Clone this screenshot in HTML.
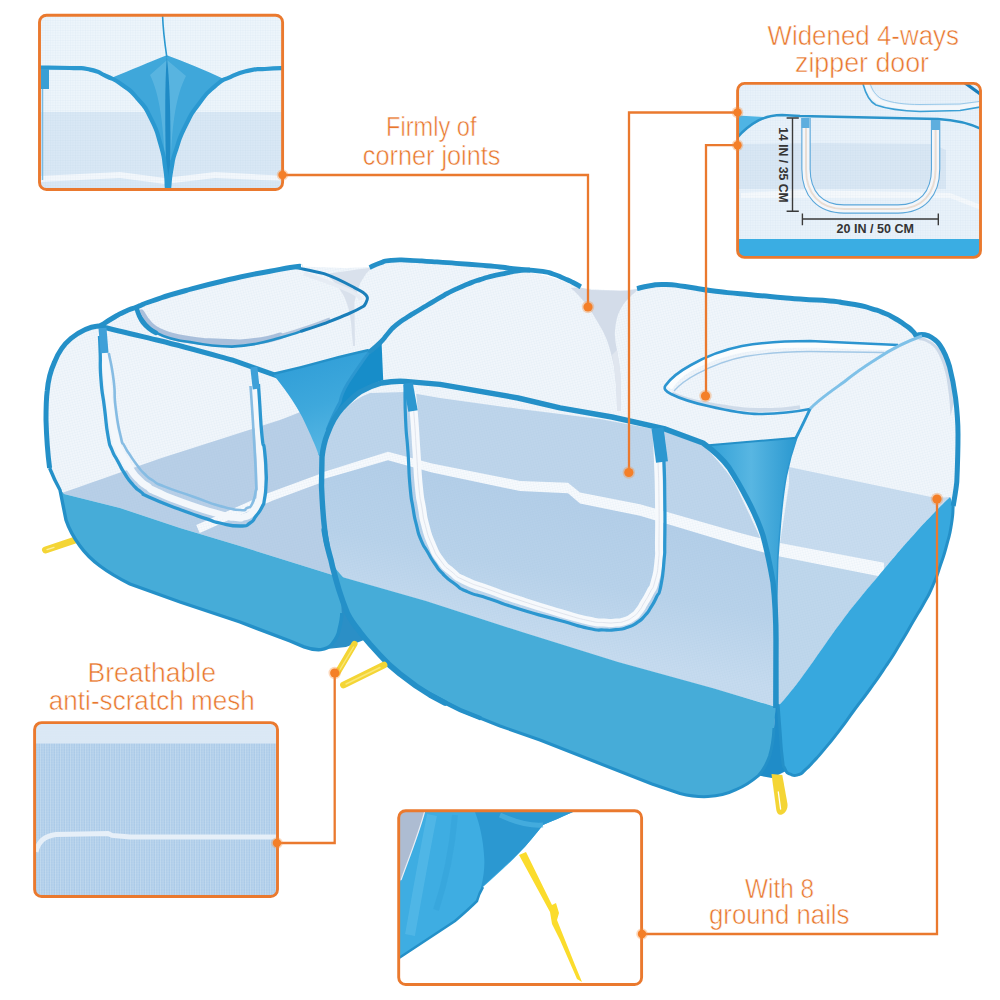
<!DOCTYPE html>
<html>
<head>
<meta charset="utf-8">
<title>Pet playpen features</title>
<style>
html,body{margin:0;padding:0;background:#fff;}
body{width:1000px;height:1000px;overflow:hidden;font-family:"Liberation Sans",sans-serif;}
svg{display:block;}
text{font-family:"Liberation Sans",sans-serif;}
</style>
</head>
<body>
<svg width="1000" height="1000" viewBox="0 0 1000 1000">
<defs>
  <pattern id="mesh" width="2.5" height="2.5" patternUnits="userSpaceOnUse" patternTransform="rotate(-14)">
    <path d="M0 0H2.5M0 0V2.5" stroke="#8fb4d6" stroke-width="0.5" opacity="0.22"/>
  </pattern>
  <pattern id="meshv" width="2.5" height="2.5" patternUnits="userSpaceOnUse">
    <path d="M0.6 0V2.5" stroke="#dbe9f6" stroke-width="0.9" opacity="0.55"/><path d="M0 1.2H2.5" stroke="#dbe9f6" stroke-width="0.5" opacity="0.3"/>
  </pattern>
  <pattern id="meshs" width="2.5" height="2.5" patternUnits="userSpaceOnUse">
    <path d="M0 0H2.5M0 0V2.5" stroke="#8fb4d6" stroke-width="0.5" opacity="0.22"/>
  </pattern>
  <linearGradient id="bandL" x1="0" y1="0" x2="1" y2="0">
    <stop offset="0" stop-color="#4bb0dd"/><stop offset="1" stop-color="#43aad8"/>
  </linearGradient>
  <linearGradient id="triG" x1="0" y1="0" x2="1" y2="0">
    <stop offset="0" stop-color="#2f9fd6"/><stop offset="0.5" stop-color="#58b6e2"/><stop offset="1" stop-color="#2a98d0"/>
  </linearGradient>
  <linearGradient id="triL" x1="0" y1="0" x2="0.3" y2="1">
    <stop offset="0" stop-color="#2c9bd6"/><stop offset="0.6" stop-color="#3ea8dc"/><stop offset="1" stop-color="#55b5e3"/>
  </linearGradient>
  <linearGradient id="floorG" gradientUnits="userSpaceOnUse" x1="560" y1="490" x2="530" y2="640">
    <stop offset="0" stop-color="#b3cee8"/><stop offset="0.55" stop-color="#b8d2ea"/><stop offset="1" stop-color="#c6dbef"/>
  </linearGradient>
  <clipPath id="c1"><rect x="39.5" y="15.2" width="243.1" height="174.3" rx="7"/></clipPath>
  <clipPath id="c2"><rect x="737.6" y="83.4" width="242.9" height="174" rx="7"/></clipPath>
  <clipPath id="c3"><rect x="34.6" y="722.6" width="242.9" height="173.9" rx="7"/></clipPath>
  <clipPath id="c4"><rect x="398.7" y="810.7" width="242.9" height="173.8" rx="7"/></clipPath>
</defs>
<rect width="1000" height="1000" fill="#fff"/>

<!-- ================= MAIN PRODUCT ================= -->
<g id="product">
<!-- yellow strap -->
<path d="M79,538.8 L45.5,550" stroke="#f4d535" stroke-width="7" stroke-linecap="round" fill="none"/>
<path d="M47,549.6 L54,547.3" stroke="#fbeea0" stroke-width="1.3" stroke-linecap="round"/>
<!-- left unit silhouette -->
<path d="M98,326 C99.2,325.7 96.9,327.5 101.6,325.0 C106.3,322.5 104.5,322.8 112.0,318.5 C119.5,314.2 115.3,316.0 124.0,312.0 C132.7,308.0 128.7,310.2 138.0,306.5 C147.3,302.8 136.0,306.3 152.0,301.0 C168.0,295.7 158.7,298.0 186.0,290.5 C213.3,283.0 206.0,284.9 234.0,278.5 C262.0,272.1 250.0,275.1 270.0,271.3 C290.0,267.5 283.7,268.6 294.0,267.0 C304.3,265.4 298.7,266.7 301.0,266.6 L345,268 L372,267 C385,262 395,260 399,260 C420,259 435,262 450,264 L518,271 C500,273 470,280 450,288 C430,298 405,315 392,328 C385,335 376,345 372,356 L365,352 C350,375 335,395 327,430 C322,450 321,470 323,500 C325,530 329,560 336,584 L342,614 C342,625 338,640 330,646 C325,650 320,651 312,647 L240,622 L180,602 L130,584 C118,578 108,572 100,566 C92,560 85,553 80,546 C74,538 69,529 66,520 L60,490 C55,480 52,472 49.6,468 C47.5,452 46.5,437 46,420 C46,410 46,400 47.2,391 C48,382 50,372 54.4,362.4 C58,353 63,345 71,338.4 C79,332 88,328 98,326 Z" fill="#f1f6fb"/>
<!-- floor through mesh -->
<path d="M62,493 L160,458.4 L280,420 L321,404 L340,400 L330,470 L329,560 L339,577 L240,546 L180,528 L120,508 L64,494 Z" fill="#b8cfe7"/>
<path d="M198,529 L270,497 L324,477" stroke="#f7fafd" stroke-width="8.6" fill="none"/>
<!-- mesh texture -->
<path d="M98,326 C99.2,325.7 96.9,327.5 101.6,325.0 C106.3,322.5 104.5,322.8 112.0,318.5 C119.5,314.2 115.3,316.0 124.0,312.0 C132.7,308.0 128.7,310.2 138.0,306.5 C147.3,302.8 136.0,306.3 152.0,301.0 C168.0,295.7 158.7,298.0 186.0,290.5 C213.3,283.0 206.0,284.9 234.0,278.5 C262.0,272.1 250.0,275.1 270.0,271.3 C290.0,267.5 283.7,268.6 294.0,267.0 C304.3,265.4 298.7,266.7 301.0,266.6 L345,268 L372,267 C385,262 395,260 399,260 C420,259 435,262 450,264 L518,271 C500,273 470,280 450,288 C430,298 405,315 392,328 C385,335 376,345 372,356 L365,352 C350,375 335,395 327,430 C322,450 321,470 323,500 C325,530 329,560 336,584 L339,577 L240,546 L180,528 L120,508 L64,494 L60,490 C55,480 52,472 49.6,468 C47.5,452 46.5,437 46,420 C46,410 46,400 47.2,391 C48,382 50,372 54.4,362.4 C58,353 63,345 71,338.4 C79,332 88,328 98,326 Z" fill="url(#mesh)"/>
<!-- blue band -->
<path d="M59,488 L64,494 L120,508 L180,528 L240,546 L339,577 L344,610 L341.8,613 C341.8,617 341,622 339,630 C338.5,634 336,639 332,644 C330,646.5 326,649 320.8,649.6 C316,650 310,649 304,646.8 L290,641 L240,622 L180,602 L130,584 C118,578 108,572 100,566 C92,560 85,553 80,546 C74,538 69,529 66,520 L60,490 Z" fill="#46acd8"/>
<path d="M341,600 L341.8,613 C341.8,617 341,622 339,630 C338.5,634 336,639 332,644 C330,646.5 326,649 322,649.5 L346,647 L364,640 L352,618 L344,598 Z" fill="#2b8fc6"/>
<path d="M49.6,468 C52,474 55,481 60,490 L66,520 C69,529 74,538 80,546 C85,553 92,560 100,566 C108,572 118,578 130,584 L180,602 L240,622 L290,641 L304,646.8 C310,649 316,650 320.8,649.6 C326,649 330,646.5 332,644 C336,639 338.5,634 339,630 C341,622 341.8,617 341.8,613" fill="none" stroke="#2490c8" stroke-width="3.4"/>
<!-- corner joint mesh (left) -->
<path d="M325.6,274 L372,267.6 C369,270.5 366,273.5 364,277 C362,280 360,283 359,286.8 C357,292 355.5,297 354.4,302.8 L355,346 L353,346 L351,322 C350,313 348,305 344.8,298 C340,288 333,280 325.6,274 Z" fill="#d9e1ec"/>
<!-- top opening left unit -->
<path d="M141,313 C146,322 152,329 160,332 C172,338 188,340 204,341.5 L240,343 C255,342 268,340 280,336" fill="none" stroke="#a9bfdb" stroke-width="7" stroke-linecap="round"/>
<path d="M280,336 C295,331.5 312,326 330,319" fill="none" stroke="#b4c6dd" stroke-width="3.4"/>
<path d="M136.8,308.8 C137.8,313 139.5,318 143,322.5 C147,327.5 151,330.5 156,332.8" fill="none" stroke="#2490c8" stroke-width="4.6" stroke-linecap="round"/>
<path d="M137,310 C141,318 147,327 156,332.6 C168,339 180,341 190,342 C205,345 220,346.6 232,346.6 C248,346 262,343 274,339.6 C283,337 292,334.5 300,331.6" fill="none" stroke="#2490c8" stroke-width="2.6"/>
<path d="M304,273.5 C315,277.5 335,284 350,291 C356,294 360,297 361,300" fill="none" stroke="#e6ecf4" stroke-width="4"/>
<path d="M294,267.3 L301,268.6 C308,270 316,271.5 324,273.6 C334,277 344,282 352.8,286.8 C358,289.5 362,291.5 364,293.2 C367,295.5 368,297.5 367.2,299.6 C366.5,302 365.5,304 364,306 C359,309 354,311.5 348,314 C340,317.5 332,320.5 324,323.6 C316,326.5 308,329 300,331.6" fill="none" stroke="#1a7fba" stroke-width="3"/>
<!-- front top edge -->
<path d="M100,326.5 C120,331 140,336 160,340.8 C185,347 210,354 232,360 L256,368.4 L280,376.8" fill="none" stroke="#2490c8" stroke-width="5"/>
<!-- left arc + back edge -->
<path d="M301.0,266.6 C298.7,266.7 304.3,265.4 294.0,267.0 C283.7,268.6 290.0,267.5 270.0,271.3 C250.0,275.1 262.0,272.1 234.0,278.5 C206.0,284.9 213.3,283.0 186.0,290.5 C158.7,298.0 168.0,295.7 152.0,301.0 C136.0,306.3 147.3,302.8 138.0,306.5 C128.7,310.2 132.7,308.0 124.0,312.0 C115.3,316.0 119.5,314.2 112.0,318.5 C104.5,322.8 106.3,322.5 101.6,325.0 C96.9,327.5 99.2,325.7 98.0,326.0 C88,327 79,332 71,338.4 C63,345 58,353 54.4,362.4 C50,372 48,382 47.2,391 C46,400 46,410 46,420 C46.5,437 47.5,452 49.6,468" fill="none" stroke="#2490c8" stroke-width="5"/>
<!-- door left unit -->
<path d="M104.5,353.0 C105.4,362.0 105.4,361.7 107.3,380.0 C109.2,398.3 107.5,389.3 110.1,408.0 C112.7,426.7 112.0,422.3 115.0,436.0 C118.0,449.7 115.7,441.1 119.0,449.0 C122.3,456.9 120.8,452.8 124.8,459.8 C128.8,466.8 126.3,463.5 131.0,470.0 C135.7,476.5 133.5,474.1 138.8,479.4 C144.1,484.7 140.9,481.8 147.0,486.0 C153.1,490.2 144.3,486.3 157.0,492.0 C169.7,497.7 164.0,495.7 185.0,503.2 C206.0,510.7 203.0,509.6 220.0,514.4 C237.0,519.2 228.0,516.6 236.0,517.5 C244.0,518.4 238.7,518.5 244.0,517.0 C249.3,515.5 247.3,516.7 252.0,513.0 C256.7,509.3 255.2,512.7 258.0,506.0 C260.8,499.3 259.5,501.7 260.5,493.0 C261.5,484.3 261.5,497.7 261.0,480.0 C260.5,462.3 260.7,466.7 259.0,440.0 C257.3,413.3 257.5,418.7 256.0,400.0 C254.5,381.3 255.0,389.3 254.5,384.0" fill="none" stroke="#f3f7fb" stroke-width="7" stroke-linejoin="round"/>
<path d="M99.5,336.0 C99.7,341.7 99.7,338.3 100.2,353.0 C100.7,367.7 99.6,361.7 101.0,380.0 C102.4,398.3 102.2,389.3 104.5,408.0 C106.8,426.7 105.5,422.0 108.0,436.0 C110.5,450.0 108.7,441.6 112.0,450.0 C115.3,458.4 113.5,453.2 117.8,461.2 C122.1,469.2 119.9,466.1 125.0,474.0 C130.1,481.9 127.9,479.0 133.2,485.0 C138.5,491.0 135.4,487.8 141.0,492.0 C146.6,496.2 137.7,492.0 150.0,497.6 C162.3,503.2 159.3,501.8 178.0,508.8 C196.7,515.8 192.0,513.9 206.0,518.6 C220.0,523.3 208.7,520.5 220.0,523.0 C231.3,525.5 230.0,526.0 240.0,526.0 C250.0,526.0 244.7,526.3 250.0,523.0 C255.3,519.7 252.0,521.3 256.0,516.0 C260.0,510.7 259.2,512.7 262.0,507.0 C264.8,501.3 263.2,506.3 264.5,499.0 C265.8,491.7 265.5,494.7 266.0,485.0 C266.5,475.3 266.5,481.7 266.0,470.0 C265.5,458.3 265.8,461.3 264.5,450.0 C263.2,438.7 263.7,452.7 262.0,436.0 C260.3,419.3 260.7,417.3 259.5,400.0 C258.3,382.7 258.8,389.3 258.5,384.0" fill="none" stroke="#2c97d0" stroke-width="3.3" stroke-linejoin="round"/>
<path d="M108.8,353.0 C110.4,362.0 111.3,361.7 113.6,380.0 C115.9,398.3 113.4,389.3 115.7,408.0 C118.0,426.7 117.7,423.3 120.6,436.0 C123.5,448.7 121.2,439.5 124.5,446.0 C127.8,452.5 126.2,449.3 130.4,455.6 C134.6,461.9 132.3,458.9 137.0,465.0 C141.7,471.1 139.1,468.6 144.4,473.8 C149.7,479.0 146.5,476.3 153.0,480.5 C159.5,484.7 151.0,481.2 164.0,486.4 C177.0,491.6 173.3,489.7 192.0,496.2 C210.7,502.7 204.0,501.4 220.0,506.0 C236.0,510.6 231.0,509.3 240.0,510.0 C249.0,510.7 243.0,510.0 247.0,508.0 C251.0,506.0 249.2,509.3 252.0,504.0 C254.8,498.7 254.2,500.0 255.5,492.0 C256.8,484.0 256.5,497.3 256.0,480.0 C255.5,462.7 255.5,466.7 254.0,440.0 C252.5,413.3 252.7,418.0 251.5,400.0 C250.3,382.0 250.8,390.7 250.5,386.0" fill="none" stroke="#86bce3" stroke-width="2.6" stroke-linejoin="round"/>
<path d="M102.5,328 L104.5,353" stroke="#3fa0d8" stroke-width="8"/>
<path d="M253.8,367 L256.2,389" stroke="#3fa0d8" stroke-width="7"/>

<!-- right unit silhouette -->
<path d="M322,460 C323,445 326,437 328,433 C332,422 337,414 342,408 C348,402 354,396 360,392 C367,388 374,385 382,383 L372,356 C376,345 385,335 392,328 C405,315 430,298 450,288 C470,280 500,273 518,271 C535,272 560,278 579,288 L620,291 L637,288.6 C641.3,287.7 640.7,287.2 650.0,285.8 C659.3,284.4 653.3,284.3 665.0,284.5 C676.7,284.7 670.0,284.5 685.0,286.5 C700.0,288.5 691.7,288.1 710.0,290.5 C728.3,292.9 720.0,291.8 740.0,293.8 C760.0,295.8 750.0,294.8 770.0,296.5 C790.0,298.2 780.0,297.5 800.0,299.0 C820.0,300.5 815.0,299.7 830.0,301.0 C845.0,302.3 835.0,301.5 845.0,303.0 C855.0,304.5 851.0,303.6 860.0,305.5 C869.0,307.4 864.0,306.3 872.0,308.8 C880.0,311.3 876.3,309.8 884.0,313.0 C891.7,316.2 888.0,314.5 895.0,318.5 C902.0,322.5 899.3,321.0 905.0,325.0 C910.7,329.0 908.3,327.0 912.0,330.5 C915.7,334.0 914.7,333.9 916.0,335.6 C920,334 925,334.5 928,335.6 C933,338 937,341 940,345.2 C944,351 947,358 949.6,366.8 C952,376 954,386 955.6,398 C957,410 958,422 958,434 C958,450 957.5,466 956.8,482 C956,490 954.5,498 953.2,506 C952.6,512.0 953.6,511.3 951.5,524.0 C949.4,536.7 950.7,530.3 947.0,544.0 C943.3,557.7 945.2,551.1 940.5,565.0 C935.8,578.9 938.3,572.9 932.8,585.6 C927.3,598.3 930.3,591.5 924.0,603.0 C917.7,614.5 921.8,606.7 914.0,620.0 C906.2,633.3 909.8,627.7 900.5,643.0 C891.2,658.3 896.2,650.7 886.0,666.0 C875.8,681.3 880.3,674.7 870.0,689.0 C859.7,703.3 865.0,695.5 855.0,709.0 C845.0,722.5 850.3,716.1 840.0,729.6 C829.7,743.1 833.0,738.8 824.0,749.6 C815.0,760.4 819.3,755.2 813.0,762.0 C806.7,768.8 809.8,765.8 805.0,770.0 C800.2,774.2 803.4,773.2 798.5,774.6 C793.6,776.0 794.9,776.1 790.4,774.2 C785.9,772.3 786.8,770.6 785.0,768.8 L784,772 L772,778 L758.4,775.6 C752,781 745,786 736,789.6 C728,793.5 718,796 708,796.6 C700,797 690,796 680,793.5 L652,784 L596,762 L540,740 L500,726 L460,710 L420,688 L400,674 L380,654 C372,646 366,640 362,634 C353,622 349,615 345.6,608 C340,595 336,584 329,560 C325,540 322,500 322,460 Z" fill="#f1f6fb"/>
<!-- front face back-wall region -->
<path d="M322,470 C323,450 326,437 330,432 C338,415 350,400 370,393 L406,392 L440,398 L520,409 L600,419 L664,431 L703,445 C722,465 730,475 735,484 C745,505 752,520 759,535 C765,552 770,570 773,586 C775,600 776,610 776,620 L778,707 L714,688.5 L618,662 L522,632 L426,601 L342,577 C325,540 322,500 322,470 Z" fill="#bed5eb"/>
<!-- floor front -->
<path d="M322,476 L388,456 L432,468 L520,486 L568,488 L580,498 L640,510 L776,549 L778,707 L714,688.5 L618,662 L522,632 L426,601 L342,577 L329,560 C325,540 322,500 322,478 Z" fill="url(#floorG)"/>
<!-- right face floor -->
<path d="M789,467 L936,498 L950,497 C944.0,503.0 944.0,502.5 932.0,515.0 C920.0,527.5 926.0,521.2 914.0,534.5 C902.0,547.8 908.0,541.0 896.0,555.0 C884.0,569.0 890.0,562.2 878.0,576.5 C866.0,590.8 872.0,583.2 860.0,598.0 C848.0,612.8 854.0,605.0 842.0,621.0 C830.0,637.0 836.0,629.2 824.0,646.0 C812.0,662.8 818.0,655.2 806.0,671.5 C794.0,687.8 797.7,683.2 788.0,695.0 C778.3,706.8 780.7,703.0 777.0,707.0 L776,620 L778,556 L789,484 Z" fill="#c8dcef"/>
<path d="M776,549 L880,575 C873.3,582.7 872.7,582.7 860.0,598.0 C847.3,613.3 854.0,605.0 842.0,621.0 C830.0,637.0 836.0,629.2 824.0,646.0 C812.0,662.8 818.0,655.2 806.0,671.5 C794.0,687.8 797.7,683.2 788.0,695.0 C778.3,706.8 780.7,703.0 777.0,707.0 Z" fill="#bfd7ec"/>
<!-- white line -->
<path d="M322.0,472.4 L388.0,451.8 L432.0,463.4 L520.0,480.9 L568.0,482.7 L580.0,492.5 L640.0,504.2 L742.0,533.5 L776.0,542.2 L884.0,562.8 L884.0,577.2 L776.0,555.8 L742.0,546.5 L640.0,515.8 L580.0,503.5 L568.0,493.3 L520.0,491.1 L432.0,472.6 L388.0,460.2 L322.0,479.6 Z" fill="#f7fafd"/>
<!-- mesh texture -->
<path d="M322,460 C323,445 326,437 328,433 C332,422 337,414 342,408 C348,402 354,396 360,392 C367,388 374,385 382,383 L372,356 C376,345 385,335 392,328 C405,315 430,298 450,288 C470,280 500,273 518,271 C535,272 560,278 579,288 L620,291 L637,288.6 C641.3,287.7 640.7,287.2 650.0,285.8 C659.3,284.4 653.3,284.3 665.0,284.5 C676.7,284.7 670.0,284.5 685.0,286.5 C700.0,288.5 691.7,288.1 710.0,290.5 C728.3,292.9 720.0,291.8 740.0,293.8 C760.0,295.8 750.0,294.8 770.0,296.5 C790.0,298.2 780.0,297.5 800.0,299.0 C820.0,300.5 815.0,299.7 830.0,301.0 C845.0,302.3 835.0,301.5 845.0,303.0 C855.0,304.5 851.0,303.6 860.0,305.5 C869.0,307.4 864.0,306.3 872.0,308.8 C880.0,311.3 876.3,309.8 884.0,313.0 C891.7,316.2 888.0,314.5 895.0,318.5 C902.0,322.5 899.3,321.0 905.0,325.0 C910.7,329.0 908.3,327.0 912.0,330.5 C915.7,334.0 914.7,333.9 916.0,335.6 C920,334 925,334.5 928,335.6 C933,338 937,341 940,345.2 C944,351 947,358 949.6,366.8 C952,376 954,386 955.6,398 C957,410 958,422 958,434 C958,450 957.5,466 956.8,482 C956,490 954.5,498 953.2,506 L950,497 C944.0,503.0 944.0,502.5 932.0,515.0 C920.0,527.5 926.0,521.2 914.0,534.5 C902.0,547.8 908.0,541.0 896.0,555.0 C884.0,569.0 890.0,562.2 878.0,576.5 C866.0,590.8 872.0,583.2 860.0,598.0 C848.0,612.8 854.0,605.0 842.0,621.0 C830.0,637.0 836.0,629.2 824.0,646.0 C812.0,662.8 818.0,655.2 806.0,671.5 C794.0,687.8 797.7,683.2 788.0,695.0 C778.3,706.8 780.7,703.0 777.0,707.0 L778,707 L714,690 L618,663 L522,632 L426,601 L342,577 L329,560 C325,540 322,500 322,460 Z" fill="url(#mesh)"/>
<!-- blue fabric next to triangle -->
<path d="M368.8,350 L381.6,343 L383.2,380 C372,384 362,390 354,396 C345,403 336,414 330,426 C326,436 323,446 321,457 L318.6,455 C322,440 326,428 332,415 C340,395 355,372 368.8,350 Z" fill="#178dc9"/>
<!-- corner triangle -->
<path d="M272.7,374 C290,370 310,365 332,358.8 C345,355.5 358,352.5 368.8,350 C362,361 355,372 348,382.8 C344,389.5 341,396 340,402 C335,411 331,420 327,430 L321,457 L318.6,455 C317,450 315,445 313,440.8 C310,433 306,425 302.4,417.4 C298,409 293,401 288,394 C283,387 278,380 272.7,374 Z" fill="url(#triL)"/>
<path d="M368.8,352.4 C362,362 355,372 348,382.8 C344,389.5 341,396 340,402 C335,411 331,420 327,430" fill="none" stroke="#2c97d0" stroke-width="3"/>
<path d="M272.7,374 C290,370 310,365 332,358.8 C345,355.5 358,352.5 368.8,350" fill="none" stroke="#2490c8" stroke-width="2.4"/>
<!-- front band -->
<path d="M333,570 L342,577 L426,601 L522,632 L618,662 L714,688.5 L776,707 L774,728 C773.5,738 772,748 769.6,756 C767,763 764,770 758.4,775.6 C752,781 745,786 736,789.6 C728,793.5 718,796 708,796.6 C700,797 690,796 680,793.5 L652,784 L596,762 L540,740 L500,726 L460,710 L420,688 L400,674 L380,654 C372,646 366,640 362,634 C353,622 349,615 345.6,608 C342,598 338,588 333,570 Z" fill="#46acd8"/>
<path d="M330,562 L344,578.5 L336,586 Z" fill="#46acd8"/>
<!-- dark wedge at near corner -->
<path d="M776,700 L774,728 C773.5,738 772,748 769.6,756 C767,763 764,770 758.4,775.6 L772,778 L786,771 L782.3,758 L780,730 L778,704 Z" fill="#1f8cc8"/>
<!-- right band -->
<path d="M950,497 C944.0,503.0 944.0,502.5 932.0,515.0 C920.0,527.5 926.0,521.2 914.0,534.5 C902.0,547.8 908.0,541.0 896.0,555.0 C884.0,569.0 890.0,562.2 878.0,576.5 C866.0,590.8 872.0,583.2 860.0,598.0 C848.0,612.8 854.0,605.0 842.0,621.0 C830.0,637.0 836.0,629.2 824.0,646.0 C812.0,662.8 818.0,655.2 806.0,671.5 C794.0,687.8 797.7,683.2 788.0,695.0 C778.3,706.8 780.7,703.0 777.0,707.0 L778,707 C778.7,712.7 778.6,712.0 780.0,730.0 C781.4,748.0 780.6,745.1 782.3,758.0 C784.0,770.9 782.3,763.4 785.0,768.8 C787.7,774.2 785.9,772.3 790.4,774.2 C794.9,776.1 793.6,776.0 798.5,774.6 C803.4,773.2 800.2,774.2 805.0,770.0 C809.8,765.8 806.7,768.8 813.0,762.0 C819.3,755.2 815.0,760.4 824.0,749.6 C833.0,738.8 829.7,743.1 840.0,729.6 C850.3,716.1 845.0,722.5 855.0,709.0 C865.0,695.5 859.7,703.3 870.0,689.0 C880.3,674.7 875.8,681.3 886.0,666.0 C896.2,650.7 891.2,658.3 900.5,643.0 C909.8,627.7 906.2,633.3 914.0,620.0 C921.8,606.7 917.7,614.5 924.0,603.0 C930.3,591.5 927.3,598.3 932.8,585.6 C938.3,572.9 935.8,578.9 940.5,565.0 C945.2,551.1 943.3,557.7 947.0,544.0 C950.7,530.3 949.4,536.7 951.5,524.0 C953.6,511.3 952.6,512.0 953.2,506.0 L951,499 Z" fill="#37a8de"/>
<!-- bottom trim -->
<path d="M324.2,530 C325,535 326,540 327,545 C328.5,551 329.8,556 331,560 C332,565 333.2,569.5 334.5,574 C336,580 337.5,585 339,590 C341.5,598 344,605 347.4,613.2 C350.5,619.5 354.5,625 358.6,630 C362,635 366,639.5 369.8,644 C376,651 382.5,658 389.4,665 L400,674 L416,686 L430,695 L445,703" fill="none" stroke="#2490c8" stroke-width="5.6" stroke-linejoin="round" stroke-linecap="round"/>
<path d="M430,695 L460,710 L480,718" fill="none" stroke="#2490c8" stroke-width="4.3" stroke-linecap="round"/>
<path d="M420,688 L460,710 L500,726 L540,740 L596,762 L652,784 L680,793.5 C690,796 700,797 708,796.6 C718,796 728,793.5 736,789.6 C745,786 752,781 758.4,775.6 C764,770 767,763 769.6,756 C772,748 773.5,738 774,728" fill="none" stroke="#2490c8" stroke-width="3" stroke-linejoin="round"/>
<path d="M778.0,704.0 C778.7,712.7 778.6,712.0 780.0,730.0 C781.4,748.0 780.6,745.1 782.3,758.0 C784.0,770.9 782.3,763.4 785.0,768.8 C787.7,774.2 785.9,772.3 790.4,774.2 C794.9,776.1 793.6,776.0 798.5,774.6 C803.4,773.2 800.2,774.2 805.0,770.0 C809.8,765.8 806.7,768.8 813.0,762.0 C819.3,755.2 815.0,760.4 824.0,749.6 C833.0,738.8 829.7,743.1 840.0,729.6 C850.3,716.1 845.0,722.5 855.0,709.0 C865.0,695.5 859.7,703.3 870.0,689.0 C880.3,674.7 875.8,681.3 886.0,666.0 C896.2,650.7 891.2,658.3 900.5,643.0 C909.8,627.7 906.2,633.3 914.0,620.0 C921.8,606.7 917.7,614.5 924.0,603.0 C930.3,591.5 927.3,598.3 932.8,585.6 C938.3,572.9 935.8,578.9 940.5,565.0 C945.2,551.1 943.3,557.7 947.0,544.0 C950.7,530.3 949.4,536.7 951.5,524.0 C953.6,511.3 952.6,512.0 953.2,506.0" fill="none" stroke="#2490c8" stroke-width="3"/>
<!-- corner joint mesh right -->
<path d="M570.8,288 L580.4,287.6 L591.6,290 L626.8,290.8 L639.6,288.4 C636,291 633,294 630,297 C627,300 624,303 622,306.8 C620,310 618,314 617,318 C615.5,324 615,329 614.8,334 C615,340 616,345 617,350 C618.5,358 619.5,366 620.4,374 L621,411 L617.2,411 L616.4,390 C616,382 615,374 614,366 C612,357 610,349 607.6,342 C605,335 602,329 598,322.8 C595,317 591,311 586.8,305 C582,299 577,293 570.8,288 Z" fill="#d3dce9"/>
<path d="M614,366 C615,374 616,382 616.4,390 L617.2,411 L621,411 L620.4,374 C619.5,366 618.5,358 617,350 L612,355 Z" fill="#e0e6ef"/>
<!-- corner joint mesh far right -->
<path d="M918,340 C925,340.5 931,343.5 935.5,349 C940.5,356.5 944,366 946.5,378 C948.5,390 950,402 950.5,416 L954.5,400 C953,385 950,370 946,358 C941,348 932,340 921,337 Z" fill="#cdd9e8"/>
<!-- back edge trim -->
<path d="M369.6,267.6 C373.1,266.1 372.9,265.4 380.0,263.0 C387.1,260.6 381.0,261.3 391.0,260.4 C401.0,259.5 396.3,259.9 410.0,260.3 C423.7,260.7 416.7,260.6 432.0,261.6 C447.3,262.6 440.0,262.1 456.0,263.3 C472.0,264.5 465.3,264.0 480.0,265.2 C494.7,266.4 488.0,265.8 500.0,267.0 C512.0,268.2 502.7,267.4 516.0,268.8 C529.3,270.2 527.7,269.5 540.0,271.2 C552.3,272.9 545.0,271.6 553.0,274.0 C561.0,276.4 557.3,275.6 564.0,278.4 C570.7,281.2 567.4,279.7 573.0,282.5 C578.6,285.3 578.2,285.4 580.8,286.8" fill="none" stroke="#2490c8" stroke-width="4.8"/>
<path d="M637.0,288.6 C641.3,287.7 640.7,287.2 650.0,285.8 C659.3,284.4 653.3,284.3 665.0,284.5 C676.7,284.7 670.0,284.5 685.0,286.5 C700.0,288.5 691.7,288.1 710.0,290.5 C728.3,292.9 720.0,291.8 740.0,293.8 C760.0,295.8 750.0,294.8 770.0,296.5 C790.0,298.2 780.0,297.5 800.0,299.0 C820.0,300.5 815.0,299.7 830.0,301.0 C845.0,302.3 835.0,301.5 845.0,303.0 C855.0,304.5 851.0,303.6 860.0,305.5 C869.0,307.4 864.0,306.3 872.0,308.8 C880.0,311.3 876.3,309.8 884.0,313.0 C891.7,316.2 888.0,314.5 895.0,318.5 C902.0,322.5 899.3,321.0 905.0,325.0 C910.7,329.0 908.3,327.0 912.0,330.5 C915.7,334.0 914.7,333.9 916.0,335.6 C920,334 925,334.5 928,335.6 C933,338 937,341 940,345.2 C944,351 947,358 949.6,366.8 C952,376 954,386 955.6,398 C957,410 958,422 958,434 C958,450 957.5,466 956.8,482 C956,490 954.5,498 953.2,506" fill="none" stroke="#2490c8" stroke-width="5"/>
<!-- arc 2 -->
<path d="M530.0,270.0 C525.3,270.4 524.7,270.0 516.0,271.2 C507.3,272.4 512.0,271.9 504.0,273.6 C496.0,275.3 500.0,274.2 492.0,276.2 C484.0,278.2 488.0,277.0 480.0,279.6 C472.0,282.2 476.0,280.8 468.0,284.0 C460.0,287.2 464.0,285.4 456.0,289.2 C448.0,293.0 452.0,290.9 444.0,295.3 C436.0,299.7 440.0,297.7 432.0,302.4 C424.0,307.1 428.0,304.7 420.0,309.5 C412.0,314.3 416.0,311.6 408.0,316.8 C400.0,322.0 402.7,319.6 396.0,325.2 C389.3,330.8 393.3,327.6 388.0,333.5 C382.7,339.4 386.4,336.5 380.0,342.8 C373.6,349.1 372.5,349.2 368.8,352.4" fill="none" stroke="#2490c8" stroke-width="4.8"/>
<!-- top opening right unit -->
<path d="M669.5,388 C674,380 681,373.5 691,368 C705,360.5 722,353.5 742,349.8 C765,345.8 790,344.8 810,344.8 L893,347.5" fill="none" stroke="#fbfdfe" stroke-width="5.6"/>
<path d="M674,391 C680,384 688,378.5 697,373.8 C710,367 726,360 745,356.5 C768,352.5 790,351.5 810,351.5 L884,352.5" fill="none" stroke="#a3c8e6" stroke-width="1.3"/>
<path d="M672,393.5 C682,398 694,402 709,404 C726,407 745,410 759,410 C775,410 788,409 800,407" fill="none" stroke="#cfdbe9" stroke-width="3.8"/>
<path d="M810,409 C795,412 775,414 759,414 C745,414 725,410 708,406 C692,402.5 680,398.5 671,394 C665,391 663.5,388.5 665.5,385.5 C671,377.5 680,371 691,365 C705,357 722,350 742,346 C765,342 790,341 810,341 L898,345" fill="none" stroke="#2c95d0" stroke-width="2.6" stroke-linejoin="round"/>
<!-- right face outline -->
<path d="M922,336 C905,342 890,350 878,358 C862,368 850,377 844,382 C830,392 818,400 810,409" fill="none" stroke="#7fc1e8" stroke-width="3"/>
<path d="M810,409 C805,420 800,430 796,438 C791,452 788,464 785.6,476 C783,490 782,500 780.8,512 C779,530 778,545 777,560 C776.5,580 776,595 776,608 L777,708" fill="none" stroke="#2c97d0" stroke-width="3"/>
<!-- corner triangle right -->
<path d="M705.6,445.5 L796.6,437.7 C791,452 788,464 785.6,476 C783,490 782,500 780.8,512 C779,530 778,545 777,560 C776.5,580 776,595 776,608 L776,640 C776,620 775,600 773,582 C770,565 767,550 762.8,535 C758,520 753,510 747,498.8 C741,487 735,477 729,467.6 C722,458 714,451 705.6,445.5 Z" fill="url(#triG)"/>
<!-- front face outline -->
<path d="M327,545 C324.5,532 322.5,510 321.5,486 L322,457 C323,448 325,440 327.6,433.6 C331,424 336,415 342,408.4 C348,402 354,396 360,392 C367,388 374,385 381.6,383 C390,381.5 398,381 405,381.4 L440,384.4 L518,398 L560,407.8 L612,417 L664,428.6 L703,443 C714,451 722,458 729,467.6 C735,477 741,487 747,498.8 C753,510 758,520 762.8,535 C767,550 770,565 773,582 C775,600 776,620 776,640 L775.8,708" fill="none" stroke="#2490c8" stroke-width="5.4" stroke-linejoin="round"/>
<path d="M705.6,445.5 L796.6,437.7" fill="none" stroke="#2490c8" stroke-width="2"/>
<!-- door right unit -->
<path d="M412.0,392.0 C412.8,401.3 412.9,400.0 414.4,420.0 C415.9,440.0 415.0,430.0 416.5,452.0 C418.0,474.0 417.0,467.3 418.8,486.0 C420.6,504.7 419.8,494.8 422.0,508.0 C424.2,521.2 422.1,513.3 425.4,525.6 C428.7,537.9 426.9,533.3 432.0,545.0 C437.1,556.7 434.1,551.8 440.8,560.8 C447.5,569.8 443.9,565.4 452.0,572.0 C460.1,578.6 452.3,574.6 465.0,580.6 C477.7,586.6 471.7,583.4 490.0,590.0 C508.3,596.6 496.7,592.8 520.0,600.4 C543.3,608.0 537.3,606.1 560.0,612.8 C582.7,619.5 573.3,617.2 588.0,620.5 C602.7,623.8 594.7,621.9 604.0,622.6 C613.3,623.3 609.0,623.1 616.0,622.6 C623.0,622.1 619.4,622.9 625.0,621.0 C630.6,619.1 628.1,620.3 632.8,617.0 C637.5,613.7 635.3,615.7 639.0,611.0 C642.7,606.3 640.3,609.2 644.0,603.0 C647.7,596.8 646.3,599.8 650.0,592.5 C653.7,585.2 652.2,591.5 655.0,581.0 C657.8,570.5 657.2,574.7 658.5,561.0 C659.8,547.3 658.8,560.3 659.0,540.0 C659.2,519.7 659.3,526.0 659.0,500.0 C658.7,474.0 658.8,484.7 658.0,462.0 C657.2,439.3 657.0,442.0 656.5,432.0" fill="none" stroke="#f6f9fc" stroke-width="8" stroke-linejoin="round"/>
<path d="M405.0,385.0 C405.2,396.7 404.6,397.7 405.6,420.0 C406.6,442.3 406.5,430.0 408.0,452.0 C409.5,474.0 408.3,467.3 410.0,486.0 C411.7,504.7 410.8,494.8 413.0,508.0 C415.2,521.2 413.9,514.9 416.6,525.6 C419.3,536.3 417.3,531.2 421.0,540.0 C424.7,548.8 422.9,544.0 427.6,552.0 C432.3,560.0 429.9,556.7 435.0,564.0 C440.1,571.3 436.3,567.3 443.0,574.0 C449.7,580.7 446.9,578.1 455.0,584.0 C463.1,589.9 455.5,586.6 467.2,591.6 C478.9,596.6 472.4,593.1 490.0,599.0 C507.6,604.9 496.7,602.0 520.0,609.2 C543.3,616.4 537.3,614.2 560.0,620.5 C582.7,626.8 573.3,625.0 588.0,628.2 C602.7,631.4 594.7,629.5 604.0,630.0 C613.3,630.5 608.3,630.4 616.0,629.6 C623.7,628.8 620.0,629.8 627.0,627.5 C634.0,625.2 631.0,626.6 637.0,622.6 C643.0,618.6 640.3,620.6 645.0,615.5 C649.7,610.4 647.2,613.4 651.0,607.2 C654.8,601.0 653.2,604.0 656.5,597.0 C659.8,590.0 658.3,598.2 660.8,586.2 C663.3,574.2 662.7,576.4 664.0,561.0 C665.3,545.6 664.5,560.3 664.8,540.0 C665.1,519.7 665.1,526.0 664.8,500.0 C664.5,474.0 664.9,485.3 664.0,462.0 C663.1,438.7 662.7,440.7 662.0,430.0" fill="none" stroke="#2c97d0" stroke-width="3.2" stroke-linejoin="round"/>
<path d="M412.0,392.0 C412.8,401.3 412.9,400.0 414.4,420.0 C415.9,440.0 415.0,430.0 416.5,452.0 C418.0,474.0 417.0,467.3 418.8,486.0 C420.6,504.7 419.8,494.8 422.0,508.0 C424.2,521.2 422.1,513.3 425.4,525.6 C428.7,537.9 426.9,533.3 432.0,545.0 C437.1,556.7 434.1,551.8 440.8,560.8 C447.5,569.8 443.9,565.4 452.0,572.0 C460.1,578.6 452.3,574.6 465.0,580.6 C477.7,586.6 471.7,583.4 490.0,590.0 C508.3,596.6 496.7,592.8 520.0,600.4 C543.3,608.0 537.3,606.1 560.0,612.8 C582.7,619.5 573.3,617.2 588.0,620.5 C602.7,623.8 594.7,621.9 604.0,622.6 C613.3,623.3 609.0,623.1 616.0,622.6 C623.0,622.1 619.4,622.9 625.0,621.0 C630.6,619.1 628.1,620.3 632.8,617.0 C637.5,613.7 635.3,615.7 639.0,611.0 C642.7,606.3 640.3,609.2 644.0,603.0 C647.7,596.8 646.3,599.8 650.0,592.5 C653.7,585.2 652.2,591.5 655.0,581.0 C657.8,570.5 657.2,574.7 658.5,561.0 C659.8,547.3 658.8,560.3 659.0,540.0 C659.2,519.7 659.3,526.0 659.0,500.0 C658.7,474.0 658.8,484.7 658.0,462.0 C657.2,439.3 657.0,442.0 656.5,432.0" fill="none" stroke="#d9dfe8" stroke-width="1" stroke-linejoin="round" opacity="0.8"/>
<path d="M408,383 L413,411" stroke="#2c97d0" stroke-width="9.5"/>
<path d="M657.5,428 L662,462" stroke="#2c97d0" stroke-width="12"/>
<!-- straps -->
<path d="M354.4,644 L337,673.5" stroke="#f4d535" stroke-width="6.3" stroke-linecap="round"/><path d="M353.5,647 L338.5,672" stroke="#f9e778" stroke-width="1.4" stroke-linecap="round"/>
<path d="M384,665 L343.5,685" stroke="#f4d535" stroke-width="6.8" stroke-linecap="round"/><path d="M380,667.5 L346,684" stroke="#f9e778" stroke-width="1.4" stroke-linecap="round"/>
<path d="M771.5,774 L782.3,775 L787.5,804 C788,809 785.5,813 782,814.5 C779,815.5 777,814 776.3,810 Z" fill="#f4d535"/><path d="M778.3,792 L780.6,809" stroke="#fff" stroke-width="1.3" stroke-linecap="round"/>

</g>

<!-- ================= INSETS ================= -->
<!-- inset 1: corner joints -->
<g clip-path="url(#c1)">
  <rect x="38" y="14" width="248" height="178" fill="#edf5fb"/>
  <rect x="38" y="112" width="248" height="80" fill="#d9e8f5"/>
  <path d="M38,176 L120,172 L165,178 L215,172 L286,176 L286,181 L215,178 L165,184 L120,178 L38,182 Z" fill="#f4f8fc"/>
  <rect x="38" y="14" width="248" height="178" fill="url(#meshs)"/>
  <path d="M112.4,77.6 C115.6,80.0 113.5,77.6 122.0,84.8 C130.5,92.0 128.4,88.0 138.0,99.2 C147.6,110.4 143.3,103.5 150.8,118.4 C158.3,133.3 155.6,127.5 160.4,144.0 C165.2,160.5 163.1,152.7 165.2,168.0 C167.3,183.3 166.3,182.7 166.8,190.0 L169.2,190 L169.2,190.0 C170.0,182.7 169.2,181.7 171.6,168.0 C174.0,154.3 171.6,163.2 176.4,148.8 C181.2,134.4 178.5,139.7 186.0,124.8 C193.5,109.9 189.2,116.8 198.8,104.0 C208.4,91.2 206.8,94.9 214.8,86.4 C222.8,77.9 220.1,81.1 222.8,78.4 C205,70 185,62 166.8,55.2 C150,62 130,70 112.4,77.6 Z" fill="#3fa7da"/>
  <path d="M150,75 C160,95 163,125 165,160 L171,160 C172,125 176,95 186,76 L167,60 Z" fill="#6dbfe6" opacity="0.55"/>
  <path d="M166.8,56 C164.5,90 165,130 166.5,190 L170,190 C171,130 170.5,90 166.8,56 Z" fill="#1f8bc6"/>
  <path d="M38.0,67.5 C48.7,67.7 52.7,67.3 70.0,68.0 C87.3,68.7 78.0,66.9 90.0,69.6 C102.0,72.3 95.3,70.9 106.0,76.0 C116.7,81.1 111.3,77.1 122.0,84.8 C132.7,92.5 128.4,88.0 138.0,99.2 C147.6,110.4 143.3,103.5 150.8,118.4 C158.3,133.3 155.6,127.5 160.4,144.0 C165.2,160.5 163.1,153.6 165.2,168.0 C167.3,182.4 166.2,179.5 166.8,187.2 C167.4,194.9 166.9,189.7 167.0,191.0" fill="none" stroke="#2a98d0" stroke-width="4.2"/>
  <path d="M286.0,68.0 C279.0,68.3 277.0,68.2 265.0,69.0 C253.0,69.8 261.4,67.8 250.0,70.4 C238.6,73.0 242.5,71.5 230.8,76.8 C219.1,82.1 225.5,77.3 214.8,86.4 C204.1,95.5 208.4,91.2 198.8,104.0 C189.2,116.8 193.5,109.9 186.0,124.8 C178.5,139.7 181.2,134.4 176.4,148.8 C171.6,163.2 174.0,155.2 171.6,168.0 C169.2,180.8 170.1,179.5 169.2,187.2 C168.3,194.9 169.1,189.7 169.0,191.0" fill="none" stroke="#2a98d0" stroke-width="4.2"/>
  <path d="M166.8,57 C165,45 163,30 162.5,14" stroke="#2a98d0" stroke-width="1.6" fill="none"/>
  <rect x="41" y="69" width="8" height="20" fill="#3a9fd4"/>
  <path d="M42.5,89 L42.5,180" stroke="#7bbbe2" stroke-width="1.5"/>
</g>
<rect x="39.5" y="15.2" width="243.1" height="174.3" rx="7" fill="none" stroke="#ea792e" stroke-width="2.9"/>

<!-- inset 2: zipper door -->
<g clip-path="url(#c2)">
  <rect x="735" y="81" width="248" height="178" fill="#e9f2fa"/>
  <path d="M737,144 L820,143 L932,144 L946,150 L946,189 L737,189 Z" fill="#d9e7f4"/>
  <path d="M741,193 L800,190 L950,193 L981,205 L981,210 L950,198 L741,198 Z" fill="#f6f9fc"/>
  <rect x="735" y="81" width="248" height="178" fill="url(#meshs)"/>
  <rect x="735" y="239" width="248" height="20" fill="#3aade3"/>
  <path d="M737,115.6 L770,117.3 C760,120 750,126 744,130 L737,138 Z" fill="#4fb4e4"/>
  <path d="M737,138 C742,132 750,125 758.4,120.4 C766,116.5 774,115 782,115 L800,116 L938,119 C955,120 970,123 983,130" fill="none" stroke="#2b94cb" stroke-width="2.5"/>
  <path d="M866,83 C869,92 873,98 879,101.5 C890,106 905,107.5 920,108 L960,107.5 L983,104" fill="none" stroke="#f3f7fb" stroke-width="4.5"/>
  <path d="M863,84 C866,95 870,102 876,105 C890,110 905,111 920,111.5 L960,110.5 L983,106.5" fill="none" stroke="#3a9fd4" stroke-width="1.6"/>
  <path d="M870,83 C872,90 876,96 882,99 C892,103 905,104.5 920,104.5 L960,104 L983,101" fill="none" stroke="#8fc3e6" stroke-width="0.9"/>
  <path d="M965,83 L983,96" stroke="#1a7db9" stroke-width="3.2" fill="none"/>
  <path d="M806,118 L806,169 C806,194 820,209 844,209 L898,209 C922,209 935.6,194 935.6,169 L935.6,120" fill="none" stroke="#5aa7da" stroke-width="9.4"/>
  <path d="M806,118 L806,169 C806,194 820,209 844,209 L898,209 C922,209 935.6,194 935.6,169 L935.6,120" fill="none" stroke="#f4f6f9" stroke-width="7.2"/>
  <path d="M806,128 L806,169 C806,194 820,209 844,209 L898,209 C922,209 935.6,194 935.6,169 L935.6,130" fill="none" stroke="#e8ddd4" stroke-width="2"/>
  <rect x="801.5" y="118" width="8" height="10" fill="#5eaede"/>
  <rect x="931" y="120" width="9" height="10" fill="#5eaede"/>
  <g stroke="#3a3a3a" stroke-width="1.4" fill="none">
    <path d="M792.5,118 V211.3 M786.6,118 H798.8 M786.6,211.3 H798.8"/>
    <path d="M802.4,219 H938.3 M802.4,213.5 V225.2 M938.3,213.5 V225.2"/>
  </g>
  <text x="836.6" y="233.4" font-size="12.6" font-weight="bold" fill="#343434" textLength="77.4" lengthAdjust="spacingAndGlyphs">20 IN / 50 CM</text>
  <text transform="translate(779.2,127.2) rotate(90)" font-size="12.6" font-weight="bold" fill="#343434" textLength="75.5" lengthAdjust="spacingAndGlyphs">14 IN / 35 CM</text>
</g>
<rect x="737.6" y="83.4" width="242.9" height="174" rx="7" fill="none" stroke="#ea792e" stroke-width="2.9"/>

<!-- inset 3: mesh -->
<g clip-path="url(#c3)">
  <rect x="32" y="720" width="250" height="180" fill="#a9c9e8"/>
  <rect x="32" y="720" width="250" height="23.5" fill="#dbe8f5"/>
  <rect x="32" y="720" width="250" height="180" fill="url(#meshv)"/>
  <path d="M36,852 C38,842 44,836 56,834.5 L108,833.5 L112,835.5 L130,837 L280,837" fill="none" stroke="#e6eff8" stroke-width="4.8"/>
</g>
<rect x="34.6" y="722.6" width="242.9" height="173.9" rx="7" fill="none" stroke="#ea792e" stroke-width="2.9"/>

<!-- inset 4: ground nails -->
<g clip-path="url(#c4)">
  <rect x="396" y="808" width="248" height="178" fill="#fff"/>
  <path d="M398,810 L573,812 C562,817 552,821 543,825 C535,835 527,845 519,853 C508,865 495,876 483,887 C480,892 478,897 477,901 C470,908 462,915 455,921 L399,958 Z" fill="#3eade2"/>
  <path d="M475,812 C480,825 483,840 484,855 C485,865 484,875 481,888 L519,853 C527,845 535,835 543,825 C552,821 562,817 573,812 Z" fill="#2b98d1"/>
  <path d="M500,815 C515,822 530,826 543,825" stroke="#4fb3e3" stroke-width="5" fill="none" opacity="0.7"/>
  <path d="M432,815 C425,850 418,890 410,935" stroke="#5cbdea" stroke-width="10" fill="none" opacity="0.6"/>
  <path d="M455,815 C452,850 446,880 436,910" stroke="#35a3da" stroke-width="6" fill="none" opacity="0.6"/>
  <path d="M398,810 L425,810 C420,830 412,850 401,880 L398,885 Z" fill="#adbcd2"/>
  <path d="M425,810 C420,830 412,850 401,880" stroke="#e8eef6" stroke-width="1.2" fill="none"/>
  <path d="M483,887 C480,892 478,897 477,901 C470,908 462,915 455,921 L399,958" stroke="#2490c8" stroke-width="2.5" fill="none"/>
  <path d="M519,855 L526,852 L552,905 L556,903 L559,913 L557,920 L575,965 L582,982 L577,979 L560,940 L552,924 L550,912 Z" fill="#fbdc2c"/>
</g>
<rect x="398.7" y="810.7" width="242.9" height="173.8" rx="7" fill="none" stroke="#ea792e" stroke-width="2.9"/>


<!-- ================= CALLOUTS ================= -->
<g fill="none" stroke="#ea792e" stroke-width="2.3">
  <path d="M282.5,175 H588 V307"/>
  <path d="M737.5,112.5 H629 V472"/>
  <path d="M737.5,145.2 H706 V396"/>
  <path d="M277,843 H334.7 V673"/>
  <path d="M642,934 H937 V499"/>
</g>
<g fill="#f6903f" opacity="0.35">
  <circle cx="282.5" cy="175" r="5.8"/><circle cx="588" cy="307" r="6.2"/><circle cx="737.5" cy="112.4" r="5.8"/><circle cx="628.8" cy="472.5" r="6.2"/><circle cx="737.5" cy="145.2" r="5.8"/><circle cx="705.5" cy="396" r="6.2"/><circle cx="277" cy="843" r="5.8"/><circle cx="334.7" cy="673" r="6.2"/><circle cx="642" cy="934" r="5.8"/><circle cx="937" cy="499" r="6.2"/>
</g>
<g fill="#f47f28">
  <circle cx="282.5" cy="175" r="4.2"/><circle cx="588" cy="307" r="4.6"/>
  <circle cx="737.5" cy="112.4" r="4.2"/><circle cx="628.8" cy="472.5" r="4.6"/>
  <circle cx="737.5" cy="145.2" r="4.2"/><circle cx="705.5" cy="396" r="4.6"/>
  <circle cx="277" cy="843" r="4.2"/><circle cx="334.7" cy="673" r="4.6"/>
  <circle cx="642" cy="934" r="4.2"/><circle cx="937" cy="499" r="4.6"/>
</g>
<g font-size="27" fill="#e8772e" stroke="#fff" stroke-width="0.55">
  <text x="386" y="136.3" textLength="90.5" lengthAdjust="spacingAndGlyphs">Firmly of</text>
  <text x="362.8" y="164.5" textLength="137.6" lengthAdjust="spacingAndGlyphs">corner joints</text>
  <text x="767.5" y="45.3" textLength="191.5" lengthAdjust="spacingAndGlyphs">Widened 4-ways</text>
  <text x="795" y="72.3" textLength="134" lengthAdjust="spacingAndGlyphs">zipper door</text>
  <text x="87.5" y="681.5" textLength="128.5" lengthAdjust="spacingAndGlyphs">Breathable</text>
  <text x="48.8" y="710.3" textLength="206" lengthAdjust="spacingAndGlyphs">anti-scratch mesh</text>
  <text x="745" y="898.3" textLength="69" lengthAdjust="spacingAndGlyphs">With 8</text>
  <text x="709" y="923.5" textLength="140.5" lengthAdjust="spacingAndGlyphs">ground nails</text>
</g>

</svg>
</body>
</html>
